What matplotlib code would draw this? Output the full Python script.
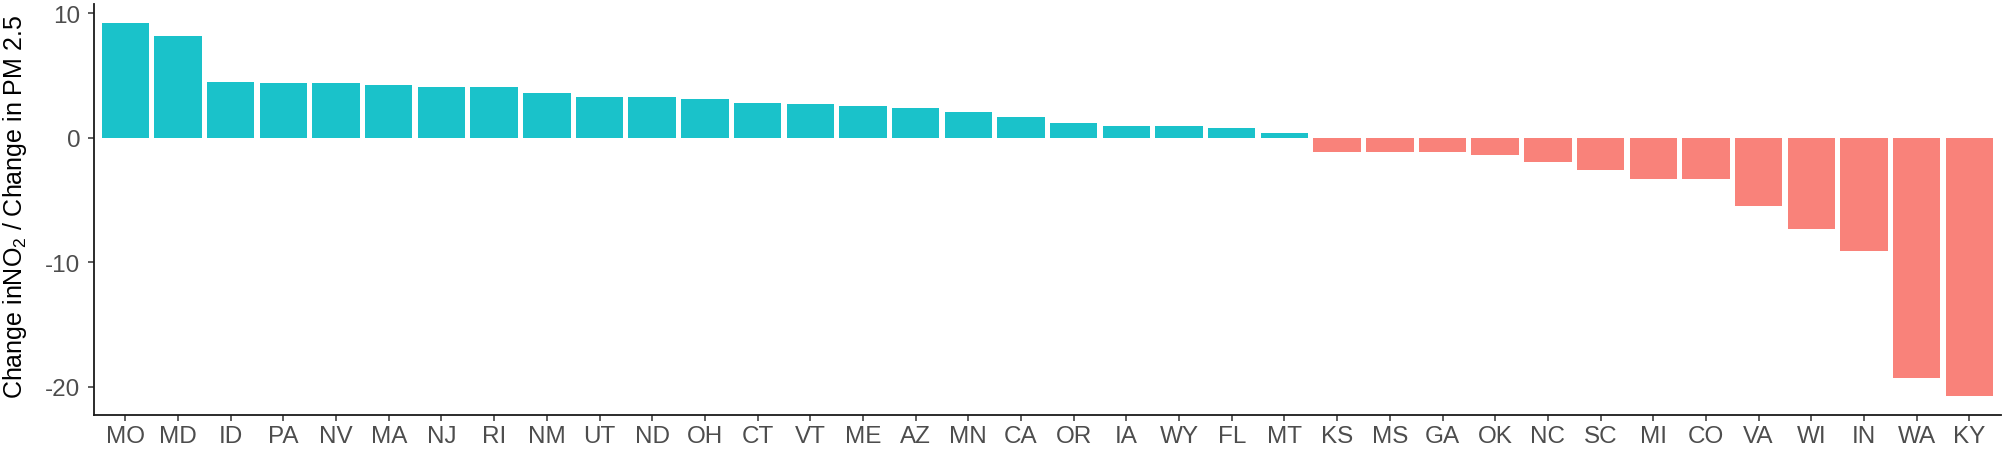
import matplotlib
matplotlib.use("Agg")
import matplotlib.pyplot as plt
import numpy as np

plt.rcParams['font.family'] = ['Liberation Sans', 'DejaVu Sans']
plt.rcParams['mathtext.fontset'] = 'custom'
plt.rcParams['mathtext.rm'] = 'Liberation Sans'
plt.rcParams['axes.unicode_minus'] = False

states = ["MO", "MD", "ID", "PA", "NV", "MA", "NJ", "RI", "NM", "UT", "ND", "OH",
          "CT", "VT", "ME", "AZ", "MN", "CA", "OR", "IA", "WY", "FL", "MT",
          "KS", "MS", "GA", "OK", "NC", "SC", "MI", "CO", "VA", "WI", "IN", "WA", "KY"]
ratio = [9.25, 8.18, 4.50, 4.37, 4.37, 4.24, 4.10, 4.10, 3.57, 3.30, 3.28, 3.14,
         2.84, 2.71, 2.57, 2.44, 2.04, 1.64, 1.23, 0.94, 0.94, 0.83, 0.40,
         -1.10, -1.10, -1.10, -1.37, -1.90, -2.57, -3.27, -3.27, -5.44, -7.35, -9.12, -19.28, -20.75]
yticks = [-20, -10, 0, 10]

teal = "#1AC2CA"
salmon = "#F9827A"

def main():
    fig = plt.figure(figsize=(20.07, 4.56), dpi=100)
    ax = fig.add_axes([0.0467, 0.0877, 0.9503, 0.9013])
    x = np.arange(len(states))
    colors = [teal if v > 0 else salmon for v in ratio]
    ax.bar(x, ratio, width=0.9, color=colors, linewidth=0)
    lo, hi = min(ratio), max(ratio)
    pad = (hi - lo) * 0.05
    ax.set_ylim(lo - pad, hi + pad)
    ax.set_xlim(-0.6, len(states) - 1 + 0.6)
    ax.set_xticks(x)
    ax.set_xticklabels(states)
    ax.set_yticks(yticks)
    ax.set_yticklabels([str(t) for t in yticks])
    for s in ["top", "right"]:
        ax.spines[s].set_visible(False)
    for s in ["left", "bottom"]:
        ax.spines[s].set_linewidth(1.3)
        ax.spines[s].set_color("#1a1a1a")
    ax.tick_params(axis="both", length=4, width=1.1, color="#333333",
                   labelsize=17.5, labelcolor="#4D4D4D")
    ax.tick_params(axis="x", pad=3)
    ax.tick_params(axis="y", pad=5.5)
    fig.text(15 / 2007, 0.546, r"Change in$\mathregular{NO_2}$ / Change in PM 2.5",
             rotation=90, ha="center", va="center", fontsize=18, color="black")
    plt.savefig("out.png", dpi=100)

if __name__ == "__main__":
    main()
